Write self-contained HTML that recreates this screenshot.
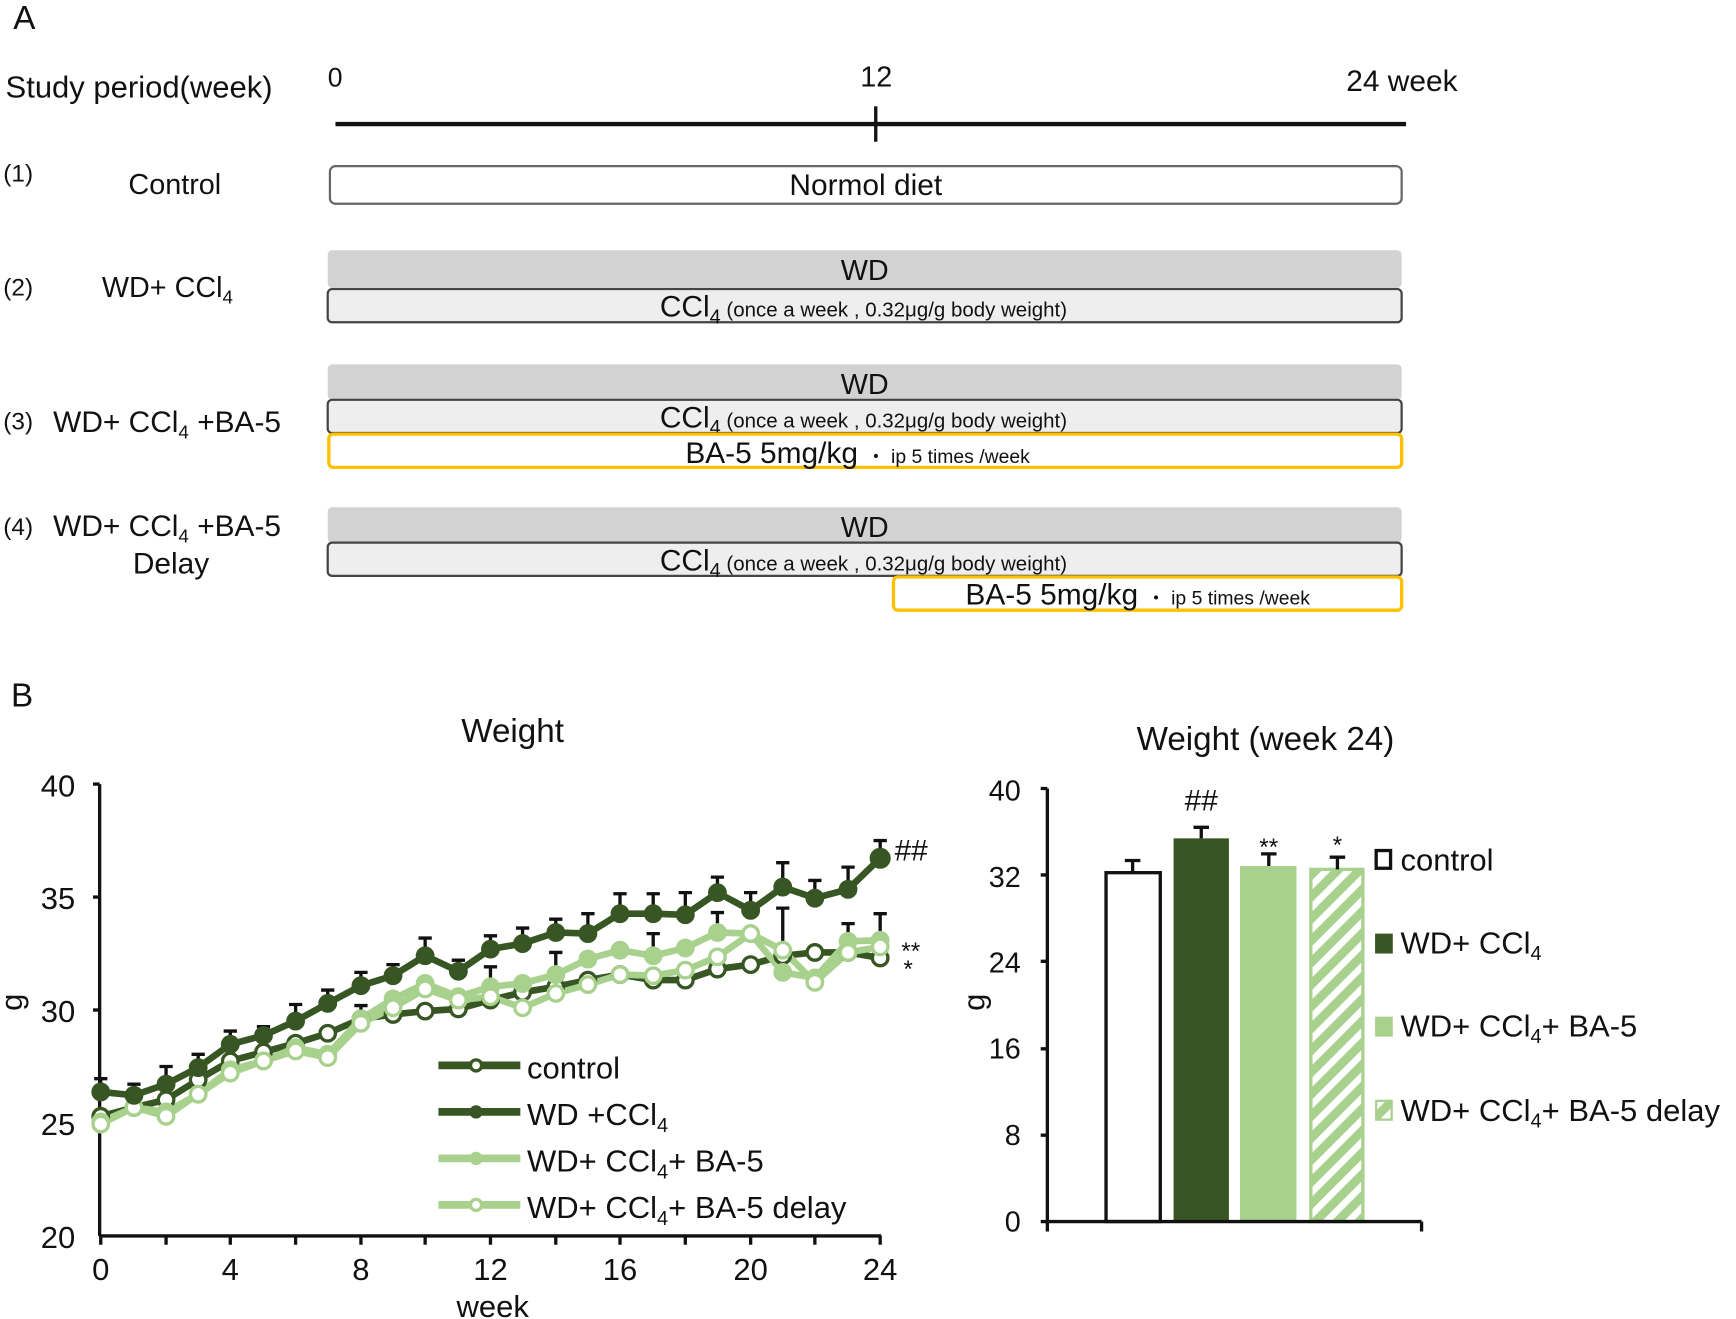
<!DOCTYPE html>
<html><head><meta charset="utf-8"><style>html,body{margin:0;padding:0;background:#fff}svg{display:block}text{font-family:"Liberation Sans",Arial,sans-serif;fill:#111}</style></head><body>
<svg width="1736" height="1319" viewBox="0 0 1568 1191" preserveAspectRatio="none" xmlns="http://www.w3.org/2000/svg">
<defs>
<pattern id="hatch" patternUnits="userSpaceOnUse" width="14" height="14" patternTransform="rotate(45)">
<rect width="14" height="14" fill="#a9d18e"/><rect width="6" height="14" fill="#fff"/>
</pattern>
</defs>
<!-- Part A -->
<text x="12" y="26" font-size="30">A</text>
<text x="5" y="88" font-size="28">Study period(week)</text>
<text x="296" y="78" font-size="24">0</text>
<text x="777" y="78" font-size="26">12</text>
<text x="1216" y="82" font-size="27">24 week</text>
<line x1="303" y1="112" x2="1270" y2="112" stroke="#111" stroke-width="4"/>
<line x1="791" y1="96" x2="791" y2="128" stroke="#111" stroke-width="3"/>

<text x="3" y="164" font-size="22">(1)</text>
<text x="116" y="175" font-size="26">Control</text>
<rect x="298" y="150" width="968" height="34" rx="5" fill="#fff" stroke="#666" stroke-width="2"/>
<text x="782" y="176" font-size="27" text-anchor="middle">Normol diet</text>

<text x="3" y="267" font-size="22">(2)</text>
<text x="92" y="268" font-size="26">WD+ CCl<tspan font-size="17" dy="6">4</tspan></text>
<rect x="296" y="226" width="970" height="34" rx="4" fill="#d3d2d3"/>
<text x="781" y="253" font-size="26" text-anchor="middle">WD</text>
<rect x="296" y="261" width="970" height="30" rx="4" fill="#eeeeee" stroke="#444" stroke-width="2"/>
<text x="596" y="286" font-size="27">CCl<tspan font-size="18" dy="6">4</tspan><tspan font-size="18.5" dy="-6"> (once a week , 0.32μg/g body weight)</tspan></text>

<text x="3" y="388" font-size="22">(3)</text>
<text x="48" y="390" font-size="27">WD+ CCl<tspan font-size="17" dy="6">4</tspan><tspan dy="-6"> +BA-5</tspan></text>
<rect x="296" y="329" width="970" height="32" rx="4" fill="#d3d2d3"/>
<text x="781" y="356" font-size="26" text-anchor="middle">WD</text>
<rect x="296" y="361" width="970" height="30" rx="4" fill="#eeeeee" stroke="#444" stroke-width="2"/>
<text x="596" y="386" font-size="27">CCl<tspan font-size="18" dy="6">4</tspan><tspan font-size="18.5" dy="-6"> (once a week , 0.32μg/g body weight)</tspan></text>
<rect x="297" y="392" width="969" height="30" rx="4" fill="#fff" stroke="#ffc000" stroke-width="3"/>
<text x="619" y="418" font-size="27">BA-5 5mg/kg <tspan font-size="17.5">・ ip 5 times /week</tspan></text>

<text x="3" y="483" font-size="22">(4)</text>
<text x="48" y="484" font-size="27">WD+ CCl<tspan font-size="17" dy="6">4</tspan><tspan dy="-6"> +BA-5</tspan></text>
<text x="120" y="518" font-size="27">Delay</text>
<rect x="296" y="458" width="970" height="32" rx="4" fill="#d3d2d3"/>
<text x="781" y="485" font-size="26" text-anchor="middle">WD</text>
<rect x="296" y="490" width="970" height="30" rx="4" fill="#eeeeee" stroke="#444" stroke-width="2"/>
<text x="596" y="515" font-size="27">CCl<tspan font-size="18" dy="6">4</tspan><tspan font-size="18.5" dy="-6"> (once a week , 0.32μg/g body weight)</tspan></text>
<rect x="807" y="521" width="459" height="30" rx="4" fill="#fff" stroke="#ffc000" stroke-width="3"/>
<text x="872" y="546" font-size="27">BA-5 5mg/kg <tspan font-size="17.5">・ ip 5 times /week</tspan></text>

<!-- Part B -->
<text x="10" y="638" font-size="30">B</text>
<text x="463" y="670" font-size="30" text-anchor="middle">Weight</text>
<g font-size="28" text-anchor="end">
<text x="68" y="719">40</text><text x="68" y="821">35</text><text x="68" y="923">30</text><text x="68" y="1025">25</text><text x="68" y="1127">20</text>
</g>
<text transform="translate(20,905) rotate(-90)" font-size="28" text-anchor="middle">g</text>
<g font-size="28" text-anchor="middle">
<text x="91" y="1156">0</text><text x="208" y="1156">4</text><text x="326" y="1156">8</text><text x="443" y="1156">12</text><text x="560" y="1156">16</text><text x="678" y="1156">20</text><text x="795" y="1156">24</text>
<text x="445" y="1189">week</text>
</g>
<g stroke="#111" stroke-width="3">
<line x1="90" y1="708" x2="90" y2="1116"/><line x1="90" y1="1116" x2="796" y2="1116"/>
<line x1="84" y1="708" x2="90" y2="708"/><line x1="84" y1="810" x2="90" y2="810"/><line x1="84" y1="912" x2="90" y2="912"/><line x1="84" y1="1014" x2="90" y2="1014"/>
<path d="M91 1116v8M150 1116v8M208 1116v8M267 1116v8M326 1116v8M384 1116v8M443 1116v8M502 1116v8M560 1116v8M619 1116v8M678 1116v8M736 1116v8M795 1116v8"/>
</g>
<!-- error bars -->
<g stroke="#111" stroke-width="3" fill="none">
<path d="M91 986v-12M85 974h12 M121 989v-10M115 979h12 M150 979v-16M144 963h12 M179 964v-12M173 952h12 M208 943v-12M202 931h12 M238 935v-8M232 927h12 M267 922v-15M261 907h12 M296 906v-12M290 894h12 M326 890v-12M320 878h12 M355 881v-10M349 871h12 M384 863v-16M378 847h12 M414 877v-10M408 867h12 M443 857v-12M437 845h12 M472 852v-14M466 838h12 M502 842v-12M496 830h12 M531 843v-18M525 825h12 M560 825v-18M554 807h12 M590 825v-18M584 807h12 M619 826v-20M613 806h12 M648 806v-14M642 792h12 M678 822v-16M672 806h12 M707 801v-22M701 779h12 M736 811v-16M730 795h12 M766 803v-20M760 783h12 M795 775v-16M789 759h12"/>
<path d="M707 878v-58M701 820h12 M766 850v-16M760 834h12 M795 849v-24M789 825h12 M590 863v-20M584 843h12 M648 842v-18M642 824h12 M502 880v-20M496 860h12 M443 891v-18M437 873h12 M326 920v-12M320 908h12"/>
</g>
<!-- series -->
<g fill="none" stroke-width="6" stroke-linejoin="round">
<polyline stroke="#375623" points="91,1008 121,1000 150,993 179,975 208,958 238,950 267,942 296,933 326,920 355,916 384,913 414,911 443,903 472,896 502,891 531,885 560,880 590,885 619,885 648,875 678,871 707,863 736,860 766,860 795,865"/>
<polyline stroke="#a9d18e" points="91,1013 121,1000 150,1004 179,988 208,966 238,958 267,946 296,952 326,920 355,902 384,888 414,900 443,891 472,888 502,880 531,866 560,858 590,863 619,856 648,842 678,843 707,878 736,883 766,850 795,849"/>
<polyline stroke="#a9d18e" points="91,1015 121,1000 150,1008 179,988 208,969 238,958 267,949 296,955 326,924 355,910 384,893 414,903 443,900 472,910 502,897 531,889 560,880 590,881 619,876 648,864 678,843 707,858 736,887 766,860 795,855"/>
<polyline stroke="#375623" points="91,986 121,989 150,979 179,964 208,943 238,935 267,922 296,906 326,890 355,881 384,863 414,877 443,857 472,852 502,842 531,843 560,825 590,825 619,826 648,806 678,822 707,801 736,811 766,803 795,775"/>
</g>
<g stroke-width="3">
<g fill="#fff" stroke="#375623">
<circle cx="91" cy="1008" r="7"/><circle cx="121" cy="1000" r="7"/><circle cx="150" cy="993" r="7"/><circle cx="179" cy="975" r="7"/><circle cx="208" cy="958" r="7"/><circle cx="238" cy="950" r="7"/><circle cx="267" cy="942" r="7"/><circle cx="296" cy="933" r="7"/><circle cx="326" cy="920" r="7"/><circle cx="355" cy="916" r="7"/><circle cx="384" cy="913" r="7"/><circle cx="414" cy="911" r="7"/><circle cx="443" cy="903" r="7"/><circle cx="472" cy="896" r="7"/><circle cx="502" cy="891" r="7"/><circle cx="531" cy="885" r="7"/><circle cx="560" cy="880" r="7"/><circle cx="590" cy="885" r="7"/><circle cx="619" cy="885" r="7"/><circle cx="648" cy="875" r="7"/><circle cx="678" cy="871" r="7"/><circle cx="707" cy="863" r="7"/><circle cx="736" cy="860" r="7"/><circle cx="766" cy="860" r="7"/><circle cx="795" cy="865" r="7"/>
</g>
<g fill="#a9d18e" stroke="#a9d18e">
<circle cx="91" cy="1013" r="7"/><circle cx="121" cy="1000" r="7"/><circle cx="150" cy="1004" r="7"/><circle cx="179" cy="988" r="7"/><circle cx="208" cy="966" r="7"/><circle cx="238" cy="958" r="7"/><circle cx="267" cy="946" r="7"/><circle cx="296" cy="952" r="7"/><circle cx="326" cy="920" r="7"/><circle cx="355" cy="902" r="7"/><circle cx="384" cy="888" r="7"/><circle cx="414" cy="900" r="7"/><circle cx="443" cy="891" r="7"/><circle cx="472" cy="888" r="7"/><circle cx="502" cy="880" r="7"/><circle cx="531" cy="866" r="7"/><circle cx="560" cy="858" r="7"/><circle cx="590" cy="863" r="7"/><circle cx="619" cy="856" r="7"/><circle cx="648" cy="842" r="7"/><circle cx="678" cy="843" r="7"/><circle cx="707" cy="878" r="7"/><circle cx="736" cy="883" r="7"/><circle cx="766" cy="850" r="7"/><circle cx="795" cy="849" r="7"/>
</g>
<g fill="#fff" stroke="#a9d18e">
<circle cx="91" cy="1015" r="7"/><circle cx="121" cy="1000" r="7"/><circle cx="150" cy="1008" r="7"/><circle cx="179" cy="988" r="7"/><circle cx="208" cy="969" r="7"/><circle cx="238" cy="958" r="7"/><circle cx="267" cy="949" r="7"/><circle cx="296" cy="955" r="7"/><circle cx="326" cy="924" r="7"/><circle cx="355" cy="910" r="7"/><circle cx="384" cy="893" r="7"/><circle cx="414" cy="903" r="7"/><circle cx="443" cy="900" r="7"/><circle cx="472" cy="910" r="7"/><circle cx="502" cy="897" r="7"/><circle cx="531" cy="889" r="7"/><circle cx="560" cy="880" r="7"/><circle cx="590" cy="881" r="7"/><circle cx="619" cy="876" r="7"/><circle cx="648" cy="864" r="7"/><circle cx="678" cy="843" r="7"/><circle cx="707" cy="858" r="7"/><circle cx="736" cy="887" r="7"/><circle cx="766" cy="860" r="7"/><circle cx="795" cy="855" r="7"/>
</g>
<g fill="#375623" stroke="#375623">
<circle cx="91" cy="986" r="7"/><circle cx="121" cy="989" r="7"/><circle cx="150" cy="979" r="7"/><circle cx="179" cy="964" r="7"/><circle cx="208" cy="943" r="7"/><circle cx="238" cy="935" r="7"/><circle cx="267" cy="922" r="7"/><circle cx="296" cy="906" r="7"/><circle cx="326" cy="890" r="7"/><circle cx="355" cy="881" r="7"/><circle cx="384" cy="863" r="7"/><circle cx="414" cy="877" r="7"/><circle cx="443" cy="857" r="7"/><circle cx="472" cy="852" r="7"/><circle cx="502" cy="842" r="7"/><circle cx="531" cy="843" r="7"/><circle cx="560" cy="825" r="7"/><circle cx="590" cy="825" r="7"/><circle cx="619" cy="826" r="7"/><circle cx="648" cy="806" r="7"/><circle cx="678" cy="822" r="7"/><circle cx="707" cy="801" r="7"/><circle cx="736" cy="811" r="7"/><circle cx="766" cy="803" r="7"/><circle cx="795" cy="775" r="8"/>
</g>
</g>
<text x="808" y="777" font-size="27">##</text>
<text x="814" y="866" font-size="22">**</text>
<text x="816" y="882" font-size="22">*</text>
<!-- legend -->
<g stroke-width="7">
<line x1="396" y1="962" x2="470" y2="962" stroke="#375623"/><line x1="396" y1="1004" x2="470" y2="1004" stroke="#375623"/>
<line x1="396" y1="1046" x2="470" y2="1046" stroke="#a9d18e"/><line x1="396" y1="1088" x2="470" y2="1088" stroke="#a9d18e"/>
</g>
<circle cx="430" cy="962" r="5" fill="#fff" stroke="#375623" stroke-width="3"/>
<circle cx="430" cy="1004" r="6" fill="#375623"/>
<circle cx="430" cy="1046" r="6" fill="#a9d18e"/>
<circle cx="430" cy="1088" r="5" fill="#fff" stroke="#a9d18e" stroke-width="3"/>
<g font-size="28">
<text x="476" y="974">control</text>
<text x="476" y="1016">WD +CCl<tspan font-size="18" dy="6">4</tspan></text>
<text x="476" y="1058">WD+ CCl<tspan font-size="18" dy="6">4</tspan><tspan dy="-6">+ BA-5</tspan></text>
<text x="476" y="1100">WD+ CCl<tspan font-size="18" dy="6">4</tspan><tspan dy="-6">+ BA-5 delay</tspan></text>
</g>

<!-- Bar chart -->
<text x="1143" y="677" font-size="30" text-anchor="middle">Weight (week 24)</text>
<g font-size="26" text-anchor="end">
<text x="922" y="723">40</text><text x="922" y="801">32</text><text x="922" y="878">24</text><text x="922" y="956">16</text><text x="922" y="1034">8</text><text x="922" y="1112">0</text>
</g>
<text transform="translate(889,905) rotate(-90)" font-size="28" text-anchor="middle">g</text>
<rect x="999" y="788" width="49" height="315" fill="#fff" stroke="#111" stroke-width="3"/>
<rect x="1060" y="757" width="50" height="346" fill="#375623"/>
<rect x="1120" y="782" width="51" height="321" fill="#a9d18e"/>
<rect x="1184" y="785" width="47" height="318" fill="url(#hatch)" stroke="#a9d18e" stroke-width="3"/>
<g stroke="#111" stroke-width="3">
<path d="M1023 788v-11M1016 777h14 M1085 757v-10M1078 747h14 M1146 782v-11M1139 771h14 M1208 785v-11M1201 774h14"/>
<line x1="946" y1="712" x2="946" y2="1112"/><line x1="946" y1="1103" x2="1284" y2="1103"/><line x1="1284" y1="1103" x2="1284" y2="1112"/>
<path d="M940 712h6M940 790h6M940 868h6M940 947h6M940 1025h6M940 1103h6"/>
</g>
<text x="1085" y="732" font-size="27" text-anchor="middle">##</text>
<text x="1146" y="772" font-size="22" text-anchor="middle">**</text>
<text x="1208" y="770" font-size="22" text-anchor="middle">*</text>
<rect x="1243" y="768" width="13" height="16" fill="#fff" stroke="#111" stroke-width="3"/>
<rect x="1242" y="843" width="16" height="18" fill="#375623"/>
<rect x="1242" y="918" width="16" height="18" fill="#a9d18e"/>
<rect x="1243" y="994" width="14" height="17" fill="url(#hatch)" stroke="#a9d18e" stroke-width="2"/>
<g font-size="28">
<text x="1265" y="786">control</text>
<text x="1265" y="861">WD+ CCl<tspan font-size="18" dy="6">4</tspan></text>
<text x="1265" y="936">WD+ CCl<tspan font-size="18" dy="6">4</tspan><tspan dy="-6">+ BA-5</tspan></text>
<text x="1265" y="1012">WD+ CCl<tspan font-size="18" dy="6">4</tspan><tspan dy="-6">+ BA-5 delay</tspan></text>
</g>
</svg>
</body></html>
